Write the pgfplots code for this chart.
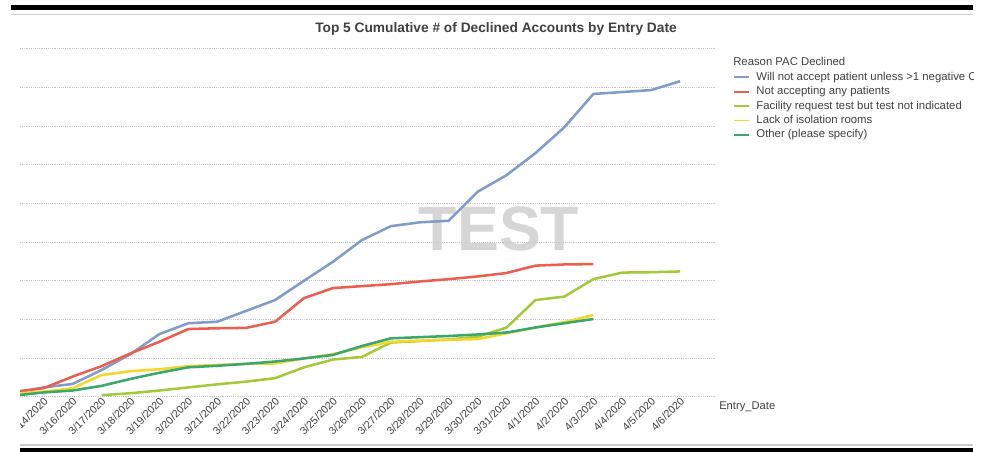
\documentclass[border=0pt]{standalone}
\usepackage{fontspec}
\setmainfont{Liberation Sans}
\usepackage{pgfplots}
\usepackage{pgfplotstable}
\pgfplotsset{compat=1.18}
\definecolor{cblue}{HTML}{7F9DCA}
\definecolor{cred}{HTML}{EC5E50}
\definecolor{clime}{HTML}{A6C93C}
\definecolor{cyellow}{HTML}{F7D62B}
\definecolor{cgreen}{HTML}{3AA86C}
\definecolor{ctext}{HTML}{404040}

\pgfplotstableread{
i v
0 1.0
1 2.4
2 3.3
3 6.9
4 11.0
5 16.2
6 19.0
7 19.4
8 22.2
9 25.0
10 30.0
11 34.9
12 40.5
13 44.1
14 45.1
15 45.5
16 53.0
17 57.3
18 63.0
19 69.7
20 78.3
21 78.8
22 79.3
23 81.6
}\blueData
\pgfplotstableread{
i v
0 1.3
1 2.2
2 5.2
3 7.9
4 11.2
5 14.2
6 17.5
7 17.7
8 17.8
9 19.4
10 25.5
11 28.1
12 28.6
13 29.1
14 29.8
15 30.4
16 31.1
17 32.0
18 33.9
19 34.2
20 34.3
}\redData
\pgfplotstableread{
i v
3 0.4
4 0.9
5 1.6
6 2.4
7 3.2
8 3.9
9 4.8
10 7.6
11 9.6
12 10.3
13 14.0
14 14.4
15 14.8
16 15.5
17 17.9
18 25.0
19 25.9
20 30.4
21 32.1
22 32.2
23 32.4
}\limeData
\pgfplotstableread{
i v
0 0.8
1 1.3
2 2.2
3 5.6
4 6.6
5 7.1
6 7.9
7 8.2
8 8.5
9 8.6
10 9.9
11 11.0
12 12.8
13 14.2
14 14.5
15 14.7
16 14.9
17 16.4
18 17.9
19 19.3
20 21.1
}\yellowData
\pgfplotstableread{
i v
0 0.3
1 1.1
2 1.6
3 2.8
4 4.6
5 6.2
6 7.6
7 8.0
8 8.5
9 9.1
10 9.9
11 10.8
12 13.1
13 15.1
14 15.4
15 15.7
16 16.1
17 16.6
18 17.9
19 19.0
20 20.1
}\greenData

\begin{document}
\begin{tikzpicture}
\path[use as bounding box] (0pt,0pt) rectangle (738.75pt,-338.25pt);
\begin{scope}[x=0.75pt,y=-0.75pt]
  \fill[black] (11,5) rectangle (973,9.5);
  \draw[gray!40, line width=1.1pt] (11,14.5) -- (973,14.5);
\end{scope}
\begin{scope}
\clip (15pt,0pt) rectangle (729.75pt,-338.25pt);
\begin{scope}[x=0.75pt,y=-0.75pt]
  \draw[gray!40, line width=1pt] (20,445) -- (973,445);
  \fill[black] (20,448) rectangle (973,453);
  \node[font=\fontsize{10.3}{12}\selectfont\bfseries, text=ctext] at (496,29) {Top 5 Cumulative \# of Declined Accounts by Entry Date};
  \node[font=\fontsize{47}{50}\selectfont\bfseries, text=black!16] at (499,229) {TEST};
  \node[anchor=west, inner sep=0pt, font=\fontsize{8.5}{10}\selectfont, text=ctext] at (733,61) {Reason PAC Declined};
  \node[anchor=west, inner sep=0pt, font=\fontsize{8.4}{10}\selectfont, text=ctext] at (719,407) {Entry\_Date};
\end{scope}
\begin{axis}[
  at={(15pt,-297.525pt)}, anchor=south west,
  scale only axis, width=522pt, height=261pt,
  xmin=0.183, xmax=24.24, ymin=0, ymax=90,
  ytick={0,10,...,90}, yticklabels={},
  ymajorgrids, grid style={densely dotted, black!22, line width=0.6pt},
  axis line style={draw=none}, tick style={draw=none},
  xtick={1,...,23},
  xticklabels={3/14/2020,3/16/2020,3/17/2020,3/18/2020,3/19/2020,3/20/2020,3/21/2020,3/22/2020,3/23/2020,3/24/2020,3/25/2020,3/26/2020,3/27/2020,3/28/2020,3/29/2020,3/30/2020,3/31/2020,4/1/2020,4/2/2020,4/3/2020,4/4/2020,4/5/2020,4/6/2020},
  xticklabel style={rotate=45, anchor=east, font=\fontsize{8}{9}\selectfont, text=ctext, inner sep=1pt, yshift=-2.5pt, xshift=1pt},
  legend cell align=left,
  legend image code/.code={\draw[#1, line width=1.3pt] (0pt,0pt) -- (11.25pt,0pt); \path (15.8pt,0pt);},
  legend style={at={(1.0244,0.9330)}, anchor=north west, draw=none, fill=none,
    inner sep=0pt, row sep=3.3pt, font=\fontsize{8.5}{10}\selectfont,
    nodes={inner sep=0pt, text height=6pt, text depth=1.5pt, text=ctext}},
  every axis plot/.append style={line width=1.9pt, line join=round},
]
\addplot[cblue] table[x=i,y=v] {\blueData};
\addlegendentry{Will not accept patient unless >1 negative COVID test}
\addplot[cred] table[x=i,y=v] {\redData};
\addlegendentry{Not accepting any patients}
\addplot[clime] table[x=i,y=v] {\limeData};
\addlegendentry{Facility request test but test not indicated}
\addplot[cyellow] table[x=i,y=v] {\yellowData};
\addlegendentry{Lack of isolation rooms}
\addplot[cgreen] table[x=i,y=v] {\greenData};
\addlegendentry{Other (please specify)}
\end{axis}
\end{scope}
\end{tikzpicture}
\end{document}
